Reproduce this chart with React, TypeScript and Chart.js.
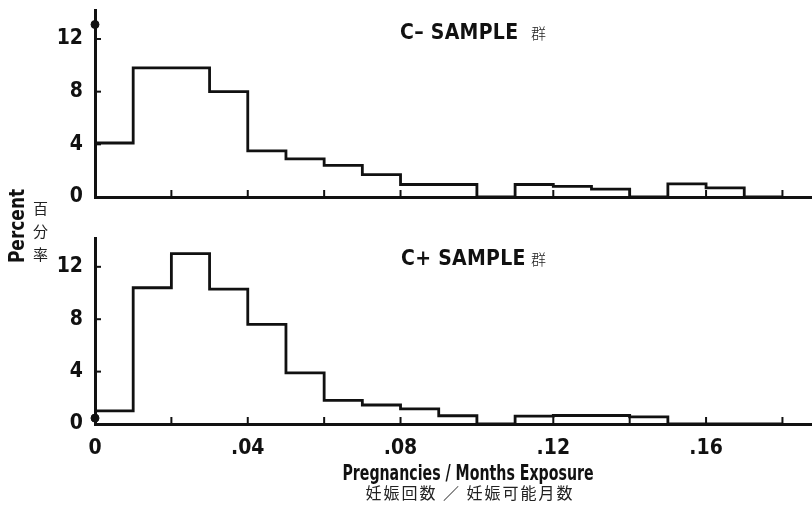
import React, { useEffect, useRef } from "react";
import { Chart, registerables } from "chart.js";
Chart.register(...registerables);

// ---- data ----
const binStarts = [0, 0.01, 0.02, 0.03, 0.04, 0.05, 0.06, 0.07, 0.08, 0.09, 0.1, 0.11, 0.12, 0.13, 0.14, 0.15, 0.16, 0.17];
const binEnd = 0.18;
const cMinusValues = [4.1, 9.8, 9.8, 8.0, 3.5, 2.9, 2.4, 1.7, 0.95, 0.95, 0, 0.95, 0.8, 0.6, 0, 1.0, 0.7, 0];
const cPlusValues = [1.0, 10.4, 13.0, 10.3, 7.6, 3.9, 1.8, 1.45, 1.15, 0.63, 0, 0.6, 0.65, 0.65, 0.55, 0, 0, 0];
const xTickMarks = [0.02, 0.04, 0.06, 0.08, 0.1, 0.12, 0.14, 0.16, 0.18];
const xLabelValues = [0, 0.04, 0.08, 0.12, 0.16];
const xLabelText = ["0", ".04", ".08", ".12", ".16"];
const yLabelValues = [0, 4, 8, 12];
const yTickMarks = [4, 8, 12];
const topDot = [{ x: 0, y: 13.1 }];
const bottomDot = [{ x: 0, y: 0.45 }];

const COND = "'Liberation Sans Narrow', 'DejaVu Sans Condensed', 'Roboto Condensed', 'Arial Narrow', sans-serif";
const INK = "#111";
const CANVAS_W = 818;

function toSteps(values: number[]) {
  const pts = binStarts.map((x, i) => ({ x, y: values[i] }));
  pts.push({ x: binEnd, y: 0 });
  return pts;
}

const innerTicks = {
  id: "innerTicks",
  afterDraw(chart: any) {
    const { ctx, chartArea, scales } = chart;
    ctx.save();
    ctx.strokeStyle = INK;
    ctx.lineWidth = 2;
    xTickMarks.forEach((v) => {
      const px = scales.x.getPixelForValue(v);
      ctx.beginPath();
      ctx.moveTo(px, chartArea.bottom);
      ctx.lineTo(px, chartArea.bottom - 7);
      ctx.stroke();
    });
    yTickMarks.forEach((v) => {
      const py = scales.y.getPixelForValue(v);
      ctx.beginPath();
      ctx.moveTo(chartArea.left, py);
      ctx.lineTo(chartArea.left + 6, py);
      ctx.stroke();
    });
    ctx.restore();
  },
};

function makeConfig(values: number[], dot: any[], showX: boolean, padTop: number, xHeight: number): any {
  return {
    type: "line",
    data: {
      datasets: [
        {
          data: toSteps(values),
          stepped: "before",
          borderColor: INK,
          borderWidth: 2.8,
          pointRadius: 0,
          fill: false,
          clip: false,
        },
        {
          type: "scatter",
          data: dot,
          pointRadius: 4,
          pointBackgroundColor: INK,
          pointBorderColor: INK,
          clip: false,
        },
      ],
    },
    options: {
      animation: false,
      responsive: false,
      maintainAspectRatio: false,
      layout: { padding: { top: padTop, left: 0, right: 0, bottom: 0 } },
      plugins: { legend: { display: false }, tooltip: { enabled: false } },
      scales: {
        x: {
          type: "linear",
          min: 0,
          max: 0.188,
          border: { display: true, color: INK, width: 3 },
          grid: { display: false, drawTicks: false },
          ticks: {
            display: showX,
            autoSkip: false,
            maxRotation: 0,
            padding: 12,
            color: INK,
            font: { family: COND, size: 21, weight: "bold" },
            callback: (v: number) => {
              const i = xLabelValues.findIndex((t) => Math.abs(t - v) < 1e-9);
              return i >= 0 ? xLabelText[i] : "";
            },
          },
          afterBuildTicks: (s: any) => {
            s.ticks = xLabelValues.map((v) => ({ value: v }));
          },
          afterFit: (s: any) => {
            s.height = xHeight;
            s.paddingLeft = 0;
            s.paddingRight = 0;
          },
        },
        y: {
          type: "linear",
          min: 0,
          max: 14.2,
          border: { display: true, color: INK, width: 3 },
          grid: { display: false, drawTicks: false },
          ticks: {
            padding: 12,
            color: INK,
            font: { family: COND, size: 21, weight: "bold" },
          },
          afterBuildTicks: (s: any) => {
            s.ticks = yLabelValues.map((v) => ({ value: v }));
          },
          afterFit: (s: any) => {
            s.width = 95;
            s.paddingTop = 0;
            s.paddingBottom = 0;
          },
        },
      },
    },
    plugins: [innerTicks],
  };
}

function Panel({ values, dot, showX, top, height, padTop, xHeight }: any) {
  const ref = useRef<HTMLCanvasElement>(null);
  useEffect(() => {
    const chart = new Chart(ref.current as HTMLCanvasElement, makeConfig(values, dot, showX, padTop, xHeight));
    return () => chart.destroy();
  }, []);
  return (
    <canvas
      ref={ref}
      width={CANVAS_W}
      height={height}
      style={{ position: "absolute", left: 0, top, width: CANVAS_W, height }}
    />
  );
}

const boldText: React.CSSProperties = {
  position: "absolute",
  fontFamily: COND,
  fontWeight: "bold",
  color: INK,
  whiteSpace: "nowrap",
  lineHeight: 1,
};
const cjkText: React.CSSProperties = {
  position: "absolute",
  fontFamily: "'Noto Sans CJK JP', 'Noto Sans CJK SC', sans-serif",
  color: "#222",
  whiteSpace: "nowrap",
  lineHeight: 1,
};

export default function App() {
  useEffect(() => {
    document.body.style.margin = "0";
    document.body.style.background = "#fff";
  }, []);
  return (
    <div style={{ position: "relative", width: 812, height: 521, background: "#fff", overflow: "hidden" }}>
      <Panel values={cMinusValues} dot={topDot} showX={false} top={0} height={215} padTop={10} xHeight={18} />
      <Panel values={cPlusValues} dot={bottomDot} showX={true} top={215} height={306} padTop={23} xHeight={97} />

      <div style={{ ...boldText, left: 400, top: 22, fontSize: 21, letterSpacing: 0.3 }}>C– SAMPLE</div>
      <div style={{ ...cjkText, left: 531, top: 25, fontSize: 15, fontWeight: 300 }}>群</div>
      <div style={{ ...boldText, left: 401, top: 248, fontSize: 21, letterSpacing: 0.3 }}>C+ SAMPLE</div>
      <div style={{ ...cjkText, left: 531, top: 251, fontSize: 15, fontWeight: 300 }}>群</div>

      <div
        style={{
          ...boldText,
          left: 17,
          top: 226,
          fontSize: 21,
          transform: "translate(-50%, -50%) rotate(-90deg) scaleX(0.9)",
        }}
      >
        Percent
      </div>
      <div style={{ ...cjkText, left: 33, top: 196, fontSize: 15, lineHeight: "23px", width: 16, whiteSpace: "normal" }}>
        百<br />分<br />率
      </div>

      <div style={{ ...boldText, left: 468, top: 463, fontSize: 21, transform: "translateX(-50%) scaleX(0.75)" }}>
        Pregnancies / Months Exposure
      </div>
      <div style={{ ...cjkText, left: 470, top: 484, fontSize: 16, letterSpacing: 2, transform: "translateX(-50%)" }}>
        妊娠回数 ／ 妊娠可能月数
      </div>
    </div>
  );
}
